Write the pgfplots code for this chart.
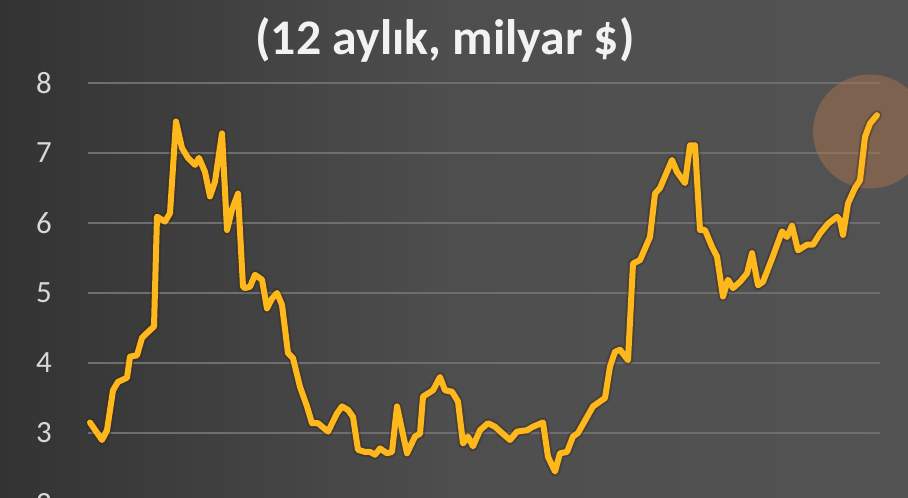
\documentclass[border=0pt]{standalone}
\usepackage{pgfplots}
\pgfplotsset{compat=1.18}
\usepackage{pgfplotstable}
\usepackage{fontspec}
\setmainfont{Carlito}
\definecolor{bgdark}{HTML}{333333}
\definecolor{bglight}{HTML}{535353}
\definecolor{gridc}{HTML}{6E6E6E}
\definecolor{linec}{RGB}{255,184,28}
\definecolor{ringc}{RGB}{178,118,78}
\definecolor{tickc}{HTML}{D9D9D9}

% x: position along the period (left edge of the grid = 0), y: milyar $
\pgfplotstableread{
x y
2 3.15
14 2.90
19 3.04
25 3.61
30 3.73
39 3.79
42 4.09
49 4.11
54 4.36
62 4.47
66 4.52
69 6.09
77 6.02
82 6.14
88 7.45
94 7.07
100 6.93
107 6.83
111 6.93
117 6.73
122 6.38
127 6.59
134 7.28
139 5.90
144 6.19
150 6.42
155 5.09
157 5.07
162 5.09
167 5.26
174 5.19
179 4.78
184 4.92
189 5.00
194 4.83
200 4.14
205 4.07
212 3.66
219 3.38
224 3.14
230 3.14
240 3.02
249 3.28
254 3.38
260 3.33
265 3.23
270 2.76
277 2.73
282 2.73
287 2.69
292 2.78
299 2.71
304 2.73
309 3.38
319 2.71
327 2.95
332 2.99
335 3.52
345 3.61
352 3.80
357 3.61
364 3.59
370 3.45
375 2.85
380 2.95
385 2.81
392 3.04
400 3.14
407 3.09
414 3.00
422 2.90
429 3.02
439 3.04
445 3.09
455 3.15
460 2.66
467 2.45
472 2.71
479 2.73
485 2.95
490 3.00
505 3.38
517 3.50
522 3.95
527 4.16
532 4.19
540 4.04
545 5.42
552 5.47
562 5.80
567 6.42
572 6.50
584 6.90
589 6.73
597 6.57
602 7.11
607 7.11
612 5.90
617 5.90
624 5.66
629 5.52
635 4.95
640 5.19
645 5.07
652 5.16
659 5.28
664 5.57
670 5.11
675 5.16
684 5.49
694 5.88
699 5.80
704 5.96
710 5.61
719 5.69
725 5.69
732 5.85
740 5.99
749 6.09
752 6.04
755 5.83
760 6.28
767 6.50
772 6.61
777 7.23
782 7.42
789 7.54
}\ihracat

\begin{document}
\begin{tikzpicture}
\begin{axis}[
  set layers,
  x=1bp, y=70bp,
  xmin=0, xmax=792,
  ymin=2, ymax=9.1857,
  axis line style={draw=none},
  xtick=\empty,
  ytick={2,3,...,8},
  major tick length=0pt,
  ymajorgrids=true,
  grid style={gridc, line width=1.6bp},
  clip=false,
  yticklabel style={anchor=east, inner sep=0pt, xshift=-36bp, text=tickc,
    font=\fontsize{31}{31}\selectfont},
  /pgf/number format/assume math mode=true,
]
\begin{pgfonlayer}{axis background}
  \shade[left color=bgdark, right color=bglight, middle color=bglight!94!black]
    (axis cs:-88,2.0857) rectangle (axis cs:820,9.1857);
\end{pgfonlayer}
\coordinate (bl) at (axis cs:-88,2.0857);
\coordinate (tr) at (axis cs:820,9.1857);

\fill[ringc, opacity=0.45] (axis cs:782,7.307) circle[radius=57bp];

\addplot[black!70!brown, opacity=0.35, line width=10bp, line join=round, line cap=round]
  table[x=x, y=y] {\ihracat};
\addplot[linec, line width=6bp, line join=round, line cap=round]
  table[x=x, y=y] {\ihracat};

\node[text=white!95!black, font=\bfseries\fontsize{50}{50}\selectfont]
  at (axis cs:357,8.62) {(12 aylık, milyar \$)};
\end{axis}
\pgfresetboundingbox
\clip (bl) rectangle (tr);
\useasboundingbox (bl) rectangle (tr);
\end{tikzpicture}
\end{document}
